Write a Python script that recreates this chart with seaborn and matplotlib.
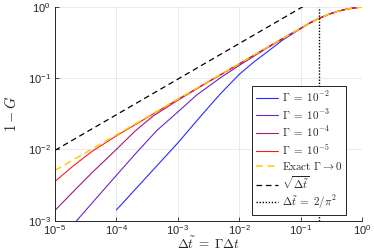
import numpy as np
import seaborn as sns
import matplotlib.pyplot as plt
from matplotlib.font_manager import FontProperties
from matplotlib.ticker import LogLocator, NullLocator

# --- values (t = Gamma*dt, y = 1 - G) ---
# shared tail where every curve sits on the exact one
tail_t = [0.141, 0.2, 0.282, 0.398, 0.562, 0.794, 1.0]
tail_y = [0.596, 0.692, 0.785, 0.867, 0.933, 0.977, 0.993]

t_g2 = [1e-4, 3.16e-4, 1e-3, 2e-3, 3.16e-3, 5e-3, 1e-2, 1.78e-2, 3.16e-2, 5e-2, 7.94e-2, 0.126]
y_g2 = [1.41e-3, 4.17e-3, 1.23e-2, 2.48e-2, 3.9e-2, 6.1e-2, 0.113, 0.172, 0.250, 0.339, 0.437, 0.562]

t_g3 = [1e-5, 2.26e-5, 5e-5, 1e-4, 2e-4, 4.57e-4, 1e-3, 2e-3, 5e-3, 1e-2, 2.5e-2, 5e-2, 0.1]
y_g3 = [4.47e-4, 1e-3, 2.19e-3, 4.32e-3, 8.51e-3, 1.85e-2, 3.35e-2, 5.75e-2, 0.102, 0.151, 0.248, 0.355, 0.50]

t_g4 = [1e-5, 2e-5, 3.98e-5, 1e-4, 2e-4, 3.98e-4, 1e-3, 3.16e-3, 1e-2, 3.16e-2, 0.1]
y_g4 = [1.39e-3, 2.57e-3, 4.68e-3, 1.0e-2, 1.8e-2, 2.95e-2, 4.9e-2, 8.9e-2, 0.158, 0.284, 0.50]

t_g5 = [1e-5, 2e-5, 3.98e-5, 1e-4, 2.51e-4, 1e-3, 1e-2, 3.16e-2, 0.1]
y_g5 = [3.55e-3, 5.89e-3, 9.33e-3, 1.55e-2, 2.48e-2, 5.05e-2, 0.159, 0.285, 0.50]

t_exact = [1e-5, 1e-4, 1e-3, 1e-2, 3.16e-2, 0.1]
y_exact = [5.07e-3, 1.60e-2, 5.07e-2, 0.160, 0.285, 0.50]

t_sqrt = [1e-5, 0.2]
y_sqrt = [0.0097, 1.37]

t_cross = 2 / np.pi**2

gamma_labels = [r'$\Gamma\;=\;10^{-2}$', r'$\Gamma\;=\;10^{-3}$',
                r'$\Gamma\;=\;10^{-4}$', r'$\Gamma\;=\;10^{-5}$']
gamma_colors = ['#2a2aff', '#6e26c4', '#a01a78', '#ff1a1a']

# --- style ---
sns.set_style('ticks')
plt.rcParams['font.family'] = ['Liberation Sans', 'DejaVu Sans']
plt.rcParams['mathtext.fontset'] = 'custom'
plt.rcParams['mathtext.rm'] = 'Liberation Sans'
plt.rcParams['mathtext.it'] = 'Liberation Sans:italic'
plt.rcParams['mathtext.bf'] = 'Liberation Sans:bold'

fig = plt.figure(figsize=(3.74, 2.49), dpi=100)
ax = fig.add_axes([0.147, 0.114, 0.821, 0.858])
ax.set_xscale('log')
ax.set_yscale('log')

series = [(t_g2, y_g2), (t_g3, y_g3), (t_g4, y_g4), (t_g5, y_g5)]
for (tt, yy), lab, col in zip(series, gamma_labels, gamma_colors):
    sns.lineplot(x=list(tt) + tail_t, y=list(yy) + tail_y, ax=ax,
                 color=col, linewidth=0.8, label=lab)

sns.lineplot(x=t_exact + tail_t, y=y_exact + tail_y, ax=ax, color='#ffcc00',
             linewidth=1.1, linestyle=(0, (4.5, 3)),
             label=r'$\mathrm{Exact}\ \Gamma \rightarrow 0$')
sns.lineplot(x=t_sqrt, y=y_sqrt, ax=ax, color='black', linewidth=0.9,
             linestyle=(0, (4.5, 3)), label=r'$\sqrt{\Delta\tilde{t}}$')
ax.axvline(t_cross, color='black', linewidth=1.0, linestyle=(0, (1, 1.2)),
           label=r'$\Delta\tilde{t}\;=\;2/\pi^2$')

ax.set_xlim(1e-5, 1)
ax.set_ylim(1e-3, 1)
ax.xaxis.set_major_locator(LogLocator(base=10, numticks=10))
ax.yaxis.set_major_locator(LogLocator(base=10, numticks=10))
ax.xaxis.set_minor_locator(NullLocator())
ax.yaxis.set_minor_locator(NullLocator())
ax.tick_params(direction='in', length=3, width=0.6, labelsize=8,
               colors='#262626', pad=2)
ax.tick_params(axis='y', pad=3)
ax.grid(True, color='#e6e6e6', linewidth=0.6)
ax.set_axisbelow(True)
for s in ['top', 'right']:
    ax.spines[s].set_visible(False)
for s in ['left', 'bottom']:
    ax.spines[s].set_color('#262626')
    ax.spines[s].set_linewidth(0.7)

ax.set_xlabel(r'$\Delta\tilde{t}\;=\;\Gamma\Delta t$', math_fontfamily='cm',
              fontsize=9.5, labelpad=-1.2)
ax.set_ylabel(r'$1-G$', math_fontfamily='cm', fontsize=10.5, labelpad=6)

leg = ax.legend(loc='upper left', bbox_to_anchor=(0.642, 0.631),
                prop=FontProperties(size=8, math_fontfamily='cm'),
                frameon=True, fancybox=False, edgecolor='black', framealpha=1,
                handlelength=2.0, handletextpad=0.3, labelspacing=0.25,
                borderpad=0.35, borderaxespad=0)
leg.get_frame().set_linewidth(0.6)

fig.savefig('out.png', dpi=100)
